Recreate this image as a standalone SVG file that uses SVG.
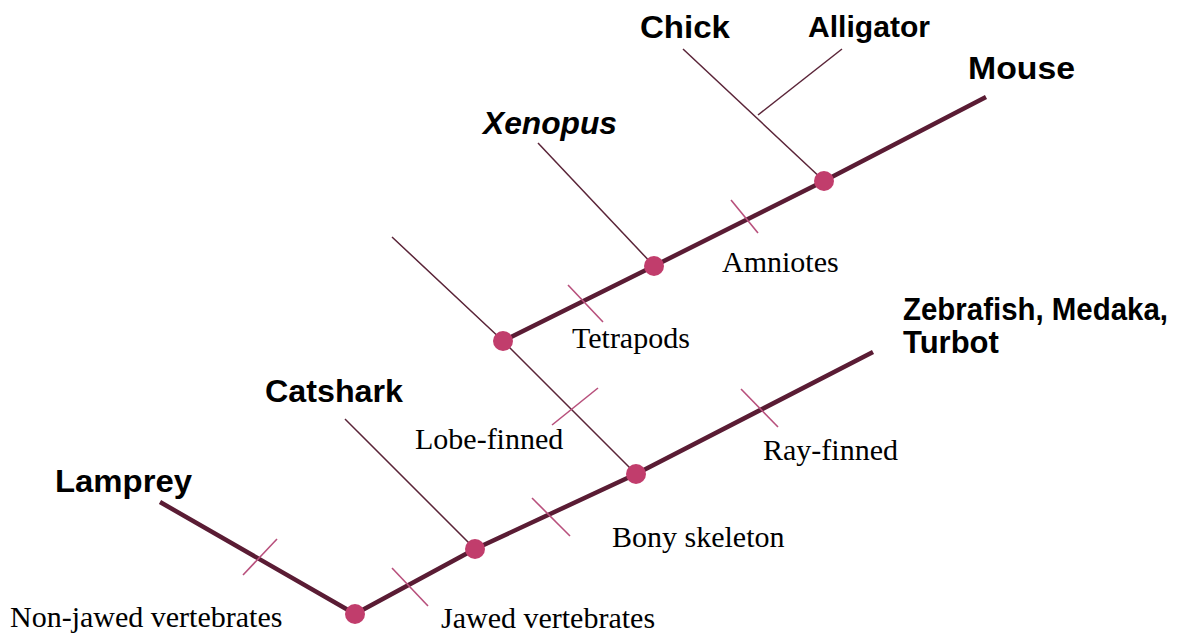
<svg xmlns="http://www.w3.org/2000/svg" width="1182" height="635" viewBox="0 0 1182 635">
<style>
.thick{stroke:#5a1c34;stroke-width:4.5;fill:none;stroke-linecap:butt;stroke-linejoin:round}
.thin{stroke:#5a2438;stroke-width:1.5;fill:none}
.tick{stroke:#b8507c;stroke-width:1.6;fill:none}
.dot{fill:#c13d6c}
.taxon{font-family:"Liberation Sans",Arial,sans-serif;font-weight:bold;font-size:31px;fill:#000}
.trait{font-family:"Liberation Serif","Times New Roman",serif;font-size:30px;fill:#000}
</style>
<rect width="1182" height="635" fill="#fff"/>
<g id="connectors">
<polyline class="thick" points="160,502 355,614 475,549 636,474 873,352"/>
<polyline class="thick" points="503,341 654,266 824,181 986,97"/>
<line class="thin" x1="345" y1="419" x2="475" y2="549"/>
<polyline class="thin" points="392,237 503,341 636,474"/>
<line class="thin" x1="538" y1="143" x2="654" y2="266"/>
<line class="thin" x1="683" y1="49" x2="824" y2="181"/>
<line class="thin" x1="842" y1="49" x2="758" y2="115"/>
</g>
<g id="ticks">
<line class="tick" x1="243" y1="575" x2="277" y2="539"/>
<line class="tick" x1="392" y1="568" x2="428" y2="606"/>
<line class="tick" x1="532" y1="498" x2="570" y2="536"/>
<line class="tick" x1="552" y1="425" x2="598" y2="388"/>
<line class="tick" x1="741" y1="389" x2="778" y2="427"/>
<line class="tick" x1="568" y1="285" x2="603" y2="322"/>
<line class="tick" x1="731" y1="200" x2="758" y2="233"/>
</g>
<g id="node-root"><circle class="dot" cx="355" cy="614" r="10"/></g>
<g id="node-jawed"><circle class="dot" cx="475" cy="549" r="10"/></g>
<g id="node-bony"><circle class="dot" cx="636" cy="474" r="10"/></g>
<g id="node-lobe"><circle class="dot" cx="503" cy="341" r="10"/></g>
<g id="node-tetrapod"><circle class="dot" cx="654" cy="266" r="10"/></g>
<g id="node-amniote"><circle class="dot" cx="824" cy="181" r="10"/></g>
<g id="taxon-lamprey"><text class="taxon" x="55" y="492" textLength="137" lengthAdjust="spacingAndGlyphs">Lamprey</text></g>
<g id="taxon-catshark"><text class="taxon" x="265" y="402" textLength="138" lengthAdjust="spacingAndGlyphs">Catshark</text></g>
<g id="taxon-teleosts"><text class="taxon" x="903" y="320" textLength="265" lengthAdjust="spacingAndGlyphs">Zebrafish, Medaka,</text><text class="taxon" x="903" y="353">Turbot</text></g>
<g id="taxon-xenopus"><text class="taxon" x="483" y="134" font-style="italic" textLength="134" lengthAdjust="spacingAndGlyphs">Xenopus</text></g>
<g id="taxon-chick"><text class="taxon" x="640" y="38" textLength="90" lengthAdjust="spacingAndGlyphs">Chick</text></g>
<g id="taxon-alligator"><text class="taxon" x="808" y="37" font-size="29" style="font-size:29px" textLength="122" lengthAdjust="spacingAndGlyphs">Alligator</text></g>
<g id="taxon-mouse"><text class="taxon" x="968" y="79" textLength="107" lengthAdjust="spacingAndGlyphs">Mouse</text></g>
<g id="trait-labels">
<text class="trait" x="10" y="627">Non-jawed vertebrates</text>
<text class="trait" x="441" y="628">Jawed vertebrates</text>
<text class="trait" x="612" y="547">Bony skeleton</text>
<text class="trait" x="415" y="449">Lobe-finned</text>
<text class="trait" x="763" y="460">Ray-finned</text>
<text class="trait" x="572" y="348">Tetrapods</text>
<text class="trait" x="722" y="272">Amniotes</text>
</g>
</svg>
